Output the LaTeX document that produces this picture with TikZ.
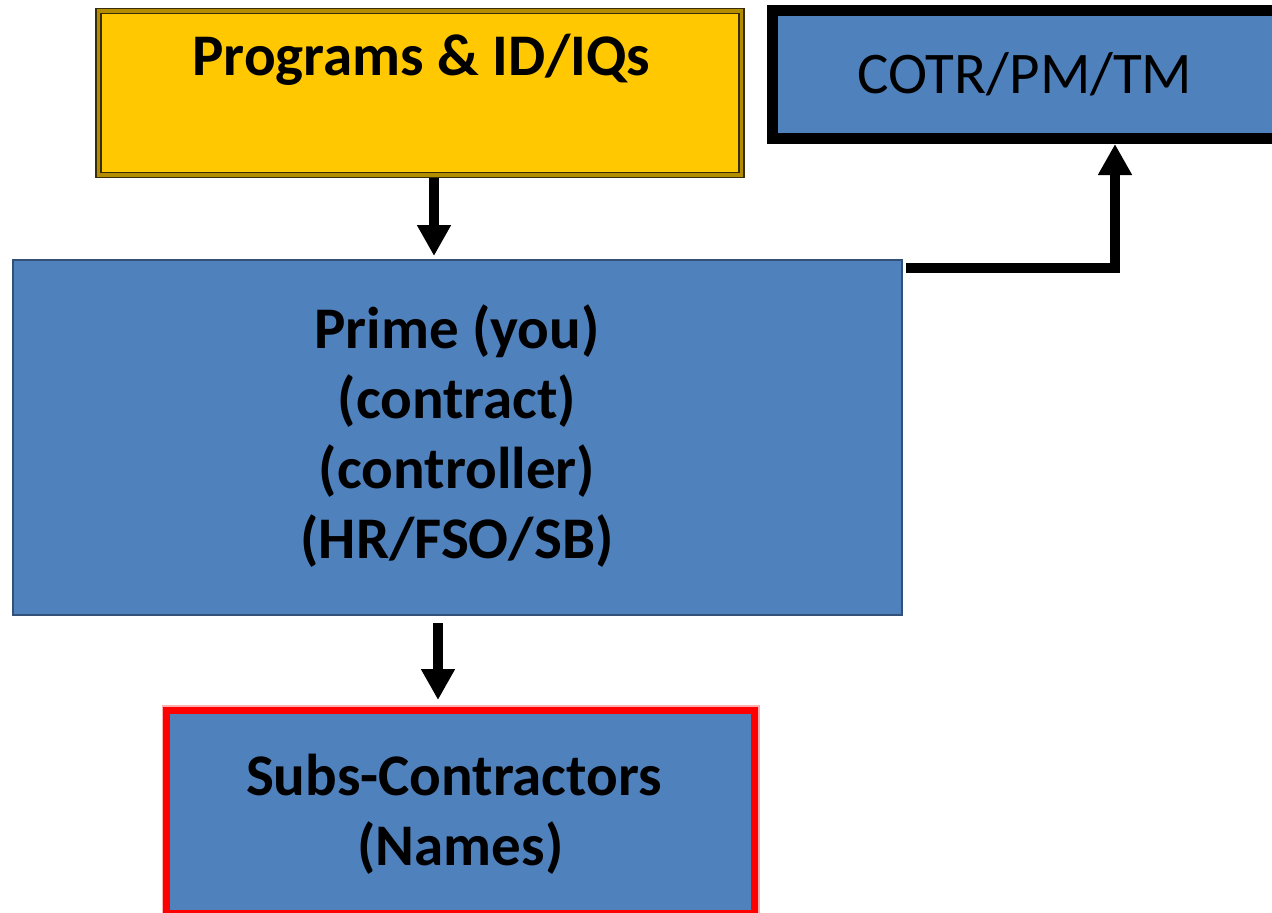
\documentclass[tikz,border=0pt]{standalone}
\usepackage{fontspec}
\setmainfont{Carlito}
\usetikzlibrary{arrows.meta,calc}
\definecolor{boxblue}{RGB}{79,129,189}
\definecolor{blueedge}{RGB}{50,80,120}
\definecolor{gold}{RGB}{255,200,0}
\definecolor{goldedge}{RGB}{55,45,10}
\definecolor{goldband}{RGB}{180,140,0}
\definecolor{redpink}{RGB}{255,175,175}
\definecolor{redline}{RGB}{255,0,0}
\begin{document}
\begin{tikzpicture}[x=1pt,y=-1pt,
  lbl/.style={anchor=base,inner sep=0pt,font=\fontsize{59}{70}\selectfont},
  lblb/.style={anchor=base,inner sep=0pt,font=\fontsize{59}{70}\selectfont\bfseries},
  boxbase/.style={inner sep=0pt,outer sep=0pt},
  flow/.style={line width=10pt,draw=black,line join=miter,-{Triangle[width=32pt,length=31pt]}}]
\useasboundingbox (0,0) rectangle (1272,913);
\clip (0,0) rectangle (1272,913);
% boxes
\node[boxbase,draw=goldedge,line width=1.6pt,double=goldband,double distance=3.4pt,fill=gold,
  minimum width=643pt,minimum height=164pt] (prog) at (420,93) {};
\node[boxbase,draw=black,line width=11pt,fill=boxblue,
  minimum width=518pt,minimum height=128pt] (cotr) at (1031,74.5) {};
\node[boxbase,draw=blueedge,line width=1.5pt,fill=boxblue,
  minimum width=889pt,minimum height=355pt] (prime) at (457.5,437.5) {};
\node[boxbase,draw=redpink,line width=10pt,
  minimum width=588pt,minimum height=203pt] (subshalo) at (460.5,811.5) {};
\node[boxbase,draw=redline,line width=7pt,fill=boxblue,
  minimum width=588pt,minimum height=203pt] (subs) at (460.5,811.5) {};
% texts
\node[lblb] (tprog) at (421.5,75) {Programs \& ID/IQs};
\node[lbl] (tcotr) at (1025,93.3) {COTR/PM/TM};
\node[lblb] (tp1) at (457,348) {Prime (you)};
\node[lblb] (tp2) at (457,418) {(contract)};
\node[lblb] (tp3) at (457,488) {(controller)};
\node[lblb] (tp4) at (457,558) {(HR/FSO/SB)};
\node[lblb] (ts1) at (454,795) {Subs-Contractors};
\node[lblb] (ts2) at (460.5,865) {(Names)};
% connectors
\coordinate (pe) at ($(prime.north east)+(4,7.5)$);
\coordinate (ce) at ($(cotr.south)+(84,5.5)$);
\draw[flow] ($(prog.south)+(14,3)$) -- ($(prime.north)+(-23.5,-4)$);
\draw[flow] ($(prime.south)+(-19.5,8)$) -- ($(subs.north)+(-22.5,-10)$);
\draw[flow] (pe) -| (ce);
\end{tikzpicture}
\end{document}
